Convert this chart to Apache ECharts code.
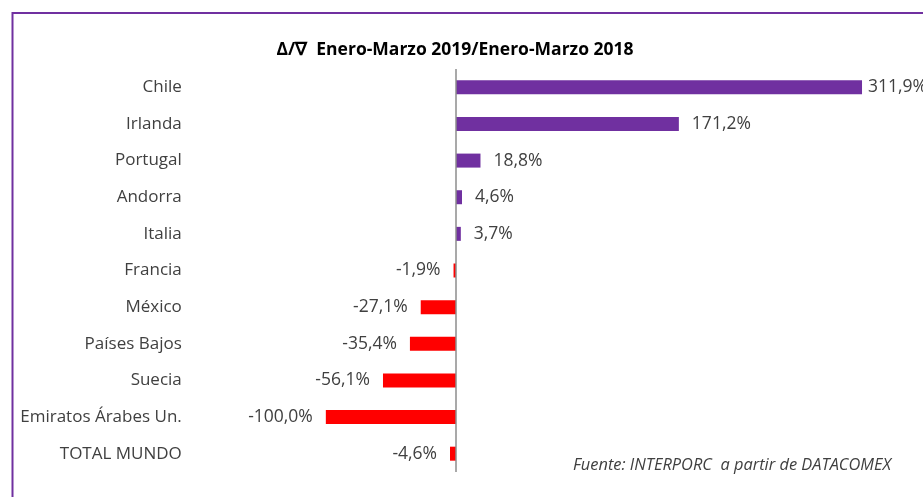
<!DOCTYPE html>
<html>
<head>
<meta charset="utf-8">
<script src="https://cdn.jsdelivr.net/npm/echarts@6/dist/echarts.min.js"></script>
<style>
  html, body { margin: 0; padding: 0; background: #fff; }
  #chart { width: 923px; height: 497px; }
</style>
</head>
<body>
<div id="chart"></div>
<script>
// Countries, top to bottom
const countries = ['Chile', 'Irlanda', 'Portugal', 'Andorra', 'Italia', 'Francia', 'México',
  'Países Bajos', 'Suecia', 'Emiratos Árabes Un.', 'TOTAL MUNDO'];
// Change Jan–Mar 2019 vs Jan–Mar 2018, in %
const changePct = [311.9, 171.2, 18.8, 4.6, 3.7, -1.9, -27.1, -35.4, -56.1, -100.0, -4.6];

const titleText = 'Δ/∇  Enero-Marzo 2019/Enero-Marzo 2018';
const sourceText = 'Fuente: INTERPORC  a partir de DATACOMEX';

const PURPLE = '#7030A0';
const RED = '#FF0000';
const TEXT = '#404040';
const FONT = '"Open Sans", "Noto Sans", sans-serif';

const fmt = v => v.toFixed(1).replace('.', ',') + '%';
const maxVal = Math.max(...changePct);

const chart = echarts.init(document.getElementById('chart'), null, { renderer: 'canvas' });

chart.setOption({
  backgroundColor: '#fff',
  animation: false,
  title: {
    text: titleText,
    left: 450,
    textAlign: 'center',
    top: 36,
    textStyle: { fontFamily: FONT, fontSize: 17.5, fontWeight: 'bold', color: '#000' }
  },
  grid: { left: 299.8, width: 598.8, top: 69, bottom: 25 },
  xAxis: {
    type: 'value',
    min: -120,
    max: 340,
    show: false
  },
  yAxis: {
    type: 'category',
    data: countries,
    inverse: true,
    axisLine: { show: false },
    axisTick: { show: false },
    axisLabel: {
      margin: 118,
      fontFamily: FONT,
      fontSize: 17,
      color: TEXT
    }
  },
  series: [{
    type: 'bar',
    data: changePct.map(v => ({
      value: v,
      itemStyle: { color: v >= 0 ? PURPLE : RED },
      // the longest bar's label sits tighter so it stays inside the frame
      label: { position: v >= 0 ? 'right' : 'left', distance: v === maxVal ? 6 : 13 }
    })),
    barWidth: 14,
    label: {
      show: true,
      fontFamily: FONT,
      fontSize: 17.5,
      color: TEXT,
      formatter: p => fmt(p.value)
    },
    markLine: {
      silent: true,
      symbol: 'none',
      label: { show: false },
      lineStyle: { color: '#8c8c8c', width: 1.5, type: 'solid' },
      data: [{ xAxis: 0 }]
    }
  }],
  graphic: [
    {
      type: 'polyline',
      shape: { points: [[12.5, 497], [12.5, 13], [923, 13]] },
      style: { stroke: PURPLE, lineWidth: 2, fill: null }
    },
    {
      type: 'text',
      left: 573,
      top: 457,
      style: {
        text: sourceText,
        font: 'italic 16.4px ' + FONT,
        fill: TEXT
      }
    }
  ]
});
</script>
</body>
</html>
